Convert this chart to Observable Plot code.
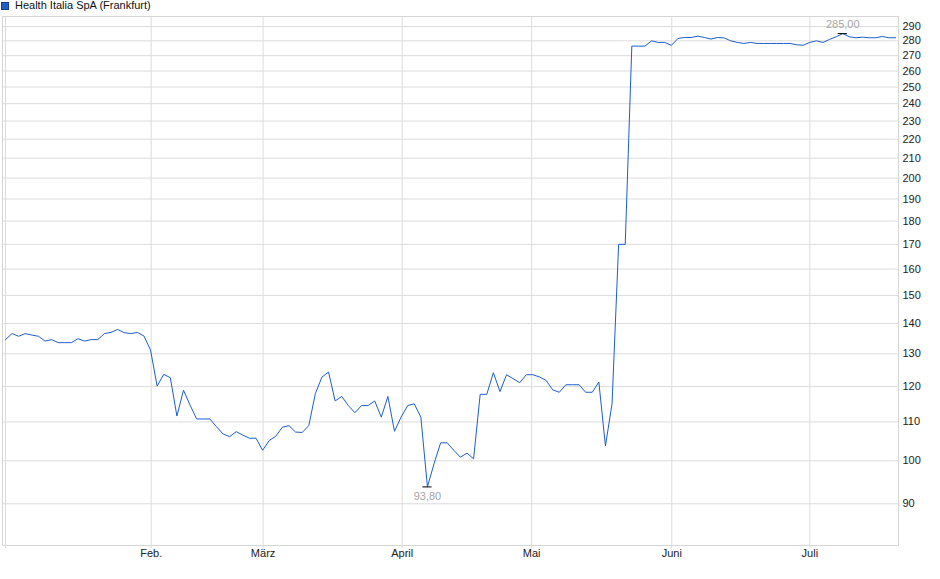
<!DOCTYPE html>
<html>
<head>
<meta charset="utf-8">
<script src="https://cdn.jsdelivr.net/npm/d3@7"></script>
<script src="https://cdn.jsdelivr.net/npm/@observablehq/plot@0.6"></script>
<style>
  html, body { margin: 0; padding: 0; background: #fff; }
  #legend { position: relative; height: 15px; font-family: "Liberation Sans", Arial, sans-serif; font-size: 11px; color: #111; }
  #legend .sw { position: absolute; left: 1px; top: 2px; width: 6px; height: 6px; background: #1f5fc8; border: 1px solid #163f86; }
  #legend .tx { position: absolute; left: 15px; top: -1px; line-height: 13px; white-space: nowrap; }
  svg { display: block; }
</style>
</head>
<body>
<div id="legend"><span class="sw"></span><span class="tx">Health Italia SpA (Frankfurt)</span></div>
<div id="chart"></div>
<script>
// closing prices, one per trading day (index = trading day)
const prices = [
  134.6, 136.6, 135.7, 136.6, 136.1, 135.7, 134.1, 134.6, 133.6, 133.6,
  133.6, 134.9, 134.1, 134.6, 134.6, 136.6, 137.0, 138.0, 136.9, 136.6,
  137.0, 135.8, 131.2, 120.1, 123.6, 122.6, 111.6, 118.9, 114.6, 110.8,
  110.8, 110.8, 108.7, 106.8, 106.1, 107.4, 106.5, 105.7, 105.7, 102.6,
  105.1, 106.2, 108.6, 109.0, 107.3, 107.2, 109.0, 117.9, 122.8, 124.3,
  115.8, 117.1, 114.5, 112.5, 114.5, 114.5, 115.8, 111.3, 117.1, 107.5,
  111.3, 114.5, 115.0, 111.3, 93.8, 99.3, 104.5, 104.5, 102.6, 100.9,
  101.9, 100.5, 117.7, 117.7, 124.1, 118.5, 123.5, 122.3, 121.1, 123.5,
  123.5, 122.8, 121.8, 119.0, 118.3, 120.5, 120.5, 120.5, 118.3, 118.3,
  121.3, 103.7, 115.0, 170.0, 170.0, 276.4, 276.4, 276.4, 280.0, 278.9,
  278.9, 276.9, 281.6, 282.3, 282.3, 283.2, 282.3, 281.2, 282.3, 282.0,
  280.0, 278.9, 278.2, 278.9, 278.2, 278.2, 278.2, 278.2, 278.2, 278.2,
  277.3, 277.0, 278.9, 280.0, 278.9, 281.0, 282.8, 285.0, 282.8, 282.1,
  282.5, 282.1, 282.1, 283.0, 282.1, 282.1
];

// month starts (position in trading-day index) and their labels
const monthPos = [0, 22.1, 39.07, 60.17, 79.8, 101.06, 122.0];
const monthLabels = ["", "Feb.", "März", "April", "Mai", "Juni", "Juli"];

// y ticks (log scale)
const yTicks = [90, 100, 110, 120, 130, 140, 150, 160, 170, 180, 190, 200, 210, 220, 230, 240, 250, 260, 270, 280, 290];

// annotated extremes
const extremeIdx = [127, 64];
const extremeVal = [285.0, 93.8];
const extremeLabel = ["285,00", "93,80"];
const extremeDy = [-9, 10];

const data = prices.map((v, i) => ({i, v}));
const extremes = extremeIdx.map((i, k) => ({i, v: extremeVal[k], label: extremeLabel[k], dy: extremeDy[k]}));
const monthMap = new Map(monthPos.map((p, k) => [p, monthLabels[k]]));

const yDom = [81.25, 297.2];
const chart = Plot.plot({
  width: 940,
  height: 564,
  marginLeft: 2,
  marginRight: 42,
  marginTop: 1,
  marginBottom: 34,
  style: {fontFamily: "'Liberation Sans', Arial, sans-serif", fontSize: "11px", background: "#fff", color: "#222", overflow: "visible"},
  x: {domain: [-0.455, 135.45], axis: null, label: null},
  y: {type: "log", domain: yDom, axis: null, label: null},
  marks: [
    Plot.ruleY(yTicks, {stroke: "#dcdcdc", strokeWidth: 1}),
    Plot.ruleX(monthPos, {stroke: "#dcdcdc", strokeWidth: 1}),
    Plot.frame({stroke: "#d6d6d6"}),
    Plot.axisX(monthPos, {tickSize: 3, tickPadding: 1, stroke: "#dcdcdc", fill: "#222", label: null,
      tickFormat: d => monthMap.get(d)}),
    Plot.axisY(yTicks, {anchor: "right", tickSize: 0, tickPadding: 4, fill: "#222", label: null,
      tickFormat: d => String(d)}),
    Plot.line(data, {x: "i", y: "v", stroke: "#1d5ec9", strokeWidth: 1}),
    Plot.ruleY(extremes, {y: "v", x1: d => d.i - 0.7, x2: d => d.i + 0.7, stroke: "#000", strokeWidth: 1}),
    Plot.text(extremes.filter(d => d.dy < 0), {x: "i", y: "v", text: "label", dy: -9, fill: "#a6a6a6"}),
    Plot.text(extremes.filter(d => d.dy > 0), {x: "i", y: "v", text: "label", dy: 10, fill: "#a6a6a6"})
  ]
});
document.getElementById("chart").appendChild(chart);
</script>
</body>
</html>
